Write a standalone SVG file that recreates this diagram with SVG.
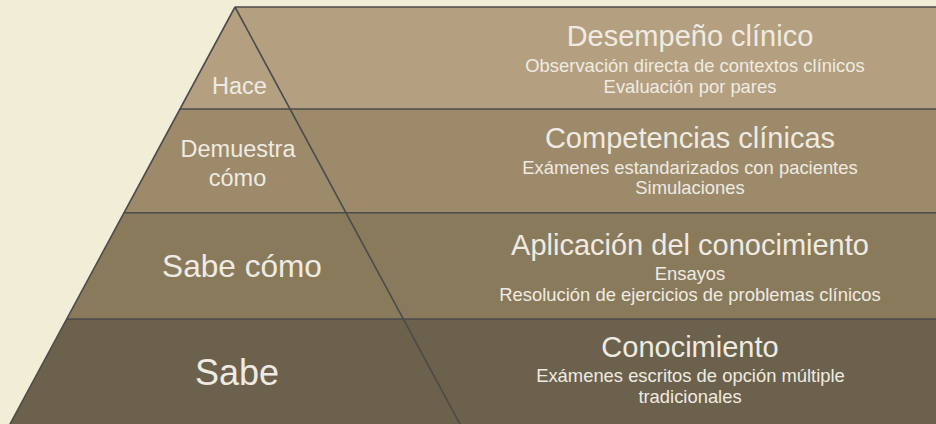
<svg xmlns="http://www.w3.org/2000/svg" width="936" height="424" viewBox="0 0 936 424">
<style>
.t{font-family:"Liberation Sans",Arial,sans-serif;fill:#efebe2;text-anchor:middle}
.ti{font-size:29px}
.sub{font-size:18.4px}
.ln{stroke:#4b4b4b;stroke-width:1.6;fill:none}
</style>
<rect width="936" height="424" fill="#f2edd7"/>
<g id="hace">
<polygon points="235,7 936,7 936,109 180,109" fill="#b4a080"/>
<text class="t" x="239.5" y="94.3" font-size="23.5">Hace</text>
<text class="t ti" x="690" y="46">Desempeño clínico</text>
<text class="t sub" x="695" y="72">Observación directa de contextos clínicos</text>
<text class="t sub" x="690" y="92.7">Evaluación por pares</text>
</g>
<g id="demuestra">
<polygon points="180,109 936,109 936,212.7 124,212.7" fill="#9c8a6a"/>
<text class="t" x="238" y="156.7" font-size="23.5">Demuestra</text>
<text class="t" x="237.5" y="185.7" font-size="23.5">cómo</text>
<text class="t ti" x="690" y="147.7">Competencias clínicas</text>
<text class="t sub" x="690" y="174">Exámenes estandarizados con pacientes</text>
<text class="t sub" x="690" y="194">Simulaciones</text>
</g>
<g id="sabecomo">
<polygon points="124,212.7 936,212.7 936,319 67,319" fill="#8a7a5c"/>
<text class="t" x="242" y="277" font-size="31.6">Sabe cómo</text>
<text class="t ti" x="690" y="255">Aplicación del conocimiento</text>
<text class="t sub" x="690" y="280">Ensayos</text>
<text class="t sub" x="690" y="301">Resolución de ejercicios de problemas clínicos</text>
</g>
<g id="sabe">
<polygon points="67,319 936,319 936,426 9,426" fill="#6b614c"/>
<text class="t" x="237" y="385" font-size="36">Sabe</text>
<text class="t ti" x="690" y="356.7">Conocimiento</text>
<text class="t sub" x="690.5" y="381.7">Exámenes escritos de opción múltiple</text>
<text class="t sub" x="690" y="402.7">tradicionales</text>
</g>
<g id="connectors">
<line class="ln" x1="235" y1="7" x2="936" y2="7"/>
<line class="ln" x1="180" y1="109" x2="936" y2="109"/>
<line class="ln" x1="124" y1="212.7" x2="936" y2="212.7"/>
<line class="ln" x1="67" y1="319" x2="936" y2="319"/>
<line class="ln" x1="235" y1="7" x2="9" y2="426"/>
<line class="ln" x1="235" y1="7" x2="461" y2="426"/>
</g>
</svg>
